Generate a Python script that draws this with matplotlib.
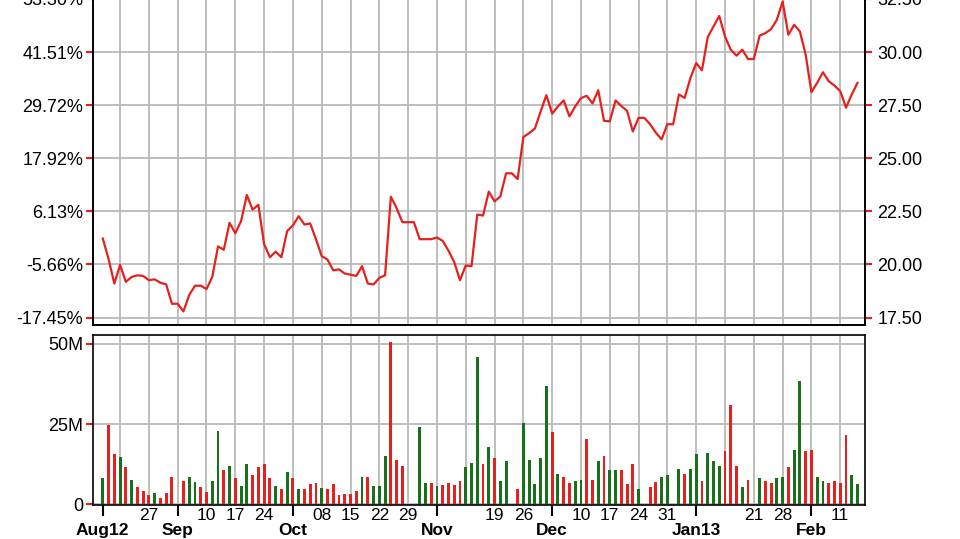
import numpy as np
import pandas as pd
import matplotlib
matplotlib.use('Agg')
import matplotlib.pyplot as plt

plt.rcParams['font.family'] = ['Liberation Sans', 'DejaVu Sans']

### Data

start = '2012-08-15'
end = '2013-02-14'
holidays = ['2012-09-03', '2012-10-29', '2012-10-30', '2012-11-22',
            '2012-12-25', '2013-01-01', '2013-01-21']

# daily close (trading days only)
close = [
    21.22, 20.26, 19.10, 19.98, 19.18, 19.41, 19.49, 19.46, 19.26, 19.30,
    19.14, 19.06, 18.15, 17.79, 18.56, 19.00, 19.00, 18.84, 19.41, 20.85,
    20.69, 21.96, 21.47, 22.04, 23.27, 22.58, 22.81, 20.96, 20.34, 20.60,
    20.34, 21.57, 21.84, 22.27, 21.88, 21.93, 21.19, 20.39, 20.23, 19.72,
    19.77, 19.57, 19.52, 19.46, 19.92, 19.10, 19.06, 19.37, 19.49, 23.19,
    22.65, 21.99, 21.19, 21.19, 21.19, 21.27, 21.11, 20.65, 20.11, 19.26,
    19.95, 19.92, 22.35, 22.30, 23.43, 22.97, 23.20, 24.29, 24.02, 26.00,
    26.18, 26.40, 27.20, 27.97, 27.10, 27.44, 27.72, 26.97, 27.44, 27.83,
    27.94, 27.58, 28.20, 26.76, 26.74, 27.72, 27.46, 27.23, 26.26, 26.90,
    26.60, 26.20, 25.89, 26.60, 28.00, 27.84, 28.78, 29.48, 29.14, 30.70,
    31.20, 31.70, 30.73, 30.11, 29.83, 30.11, 29.67, 30.77, 30.89, 31.08,
    31.52, 32.38, 30.81, 31.28, 30.97, 29.88, 28.11, 28.55, 29.05, 28.63,
    28.42, 28.16, 27.38, 28.00, 28.55,
]

# daily volume, millions
volume_m = [
    8.1, 24.7, 15.5, 14.7, 11.6, 7.6, 5.2, 4.2, 2.8, 3.6,
    1.8, 3.6, 8.6, 7.1, 8.6, 6.8, 5.2, 3.7, 7.1, 22.7,
    10.5, 12.0, 8.1, 5.7, 12.6, 9.1, 11.5, 12.6, 8.1, 5.7,
    4.6, 10.0, 8.1, 4.6, 4.6, 6.2, 6.5, 5.0, 4.6, 6.2,
    2.8, 3.2, 3.2, 4.1, 8.6, 8.6, 5.7, 5.7, 14.9, 50.5,
    13.9, 12.0, 24.1, 6.5, 6.5, 5.7, 6.0, 6.5, 6.0, 7.1,
    11.5, 12.8, 46.0, 12.5, 17.9, 14.4, 7.1, 13.4, 4.6, 25.2,
    13.9, 6.2, 14.4, 36.8, 22.6, 9.5, 8.6, 6.5, 7.1, 7.6,
    20.4, 7.6, 13.4, 14.9, 10.5, 10.5, 10.5, 6.2, 12.5, 4.6,
    5.2, 6.8, 8.6, 9.1, 11.0, 9.5, 11.1, 15.5, 7.1, 15.8,
    13.4, 12.0, 16.5, 31.0, 12.0, 5.2, 7.6, 8.1, 7.1, 6.5,
    8.1, 8.6, 11.5, 16.9, 38.4, 16.5, 16.9, 8.6, 7.1, 6.5,
    7.1, 6.5, 21.7, 9.1, 6.2,
]

# g = green bar, r = red bar
bar_color = ('grrgrgrrrg' 'rrrrggrrgg' 'rgrggrrrrg' 'rgrgrrrgrr'
             'rrrrgrgggr' 'rrggrgrrrr' 'gggrgrggrg' 'ggggrgrrgg'
             'rrgrggrrrg' 'rrgggrggrg' 'ggrrrgrgrr' 'ggrggrrggr'
             'rrrgg')

price_ticks = [17.5, 20.0, 22.5, 25.0, 27.5, 30.0, 32.5]
price_labels = ['17.50', '20.00', '22.50', '25.00', '27.50', '30.00', '32.50']
pct_labels = ['-17.45%', '-5.66%', '6.13%', '17.92%', '29.72%', '41.51%', '53.30%']

vol_ticks = [0, 25, 50]
vol_labels = ['0', '25M', '50M']

month_dates = ['2012-08-15', '2012-09-03', '2012-10-01', '2012-11-05',
               '2012-12-03', '2013-01-07', '2013-02-04']
month_labels = ['Aug12', 'Sep', 'Oct', 'Nov', 'Dec', 'Jan13', 'Feb']
week_labels = {
    '2012-08-27': '27', '2012-09-10': '10', '2012-09-17': '17', '2012-09-24': '24',
    '2012-10-08': '08', '2012-10-15': '15', '2012-10-22': '22', '2012-10-29': '29',
    '2012-11-19': '19', '2012-11-26': '26', '2012-12-10': '10', '2012-12-17': '17',
    '2012-12-24': '24', '2012-12-31': '31', '2013-01-21': '21', '2013-01-28': '28',
    '2013-02-11': '11',
}

### Positions on a weekday axis (holidays leave an empty slot)

weekdays = pd.bdate_range(start, end)
days = weekdays[~weekdays.isin(pd.to_datetime(holidays))]
x_days = np.busday_count(start, days.values.astype('datetime64[D]'))

line = pd.Series(close, index=days).reindex(weekdays).ffill()
x_line = np.arange(len(weekdays))

mondays = pd.date_range(start, end, freq='W-MON')
x_mon = np.busday_count(start, mondays.values.astype('datetime64[D]'))
mon_labels = [week_labels.get(d.strftime('%Y-%m-%d'), '') for d in mondays]
x_month = np.busday_count(start, np.array(month_dates, dtype='datetime64[D]'))

### Figure

W, H = 960, 539
fig = plt.figure(figsize=(9.6, 5.39), dpi=100)

def px_axes(left, top, right, bottom):
    return fig.add_axes([left / W, 1 - bottom / H, (right - left) / W, (bottom - top) / H])

ax = px_axes(93, -10, 865, 325)
axv = px_axes(93, 335, 865, 505)

grid_kw = dict(color='#b9b9b9', linewidth=1.3)
red = '#e6201c'
green = '#18701a'

# price line
ax.plot(x_line, line.values, color=red, linewidth=1.6, zorder=3)
ax.set_xlim(-1.7, 132.3)
ax.set_ylim(17.15, 32.92)
ax.set_yticks(price_ticks)
ax.set_yticklabels(pct_labels)
ax.set_xticks(x_mon, minor=True)
ax.set_xticks([])
ax.xaxis.remove_overlapping_locs = False
ax.set_axisbelow(True)
ax.grid(axis='y', **grid_kw)
ax.grid(axis='x', which='minor', **grid_kw)
ax.tick_params(axis='x', which='both', length=0, labelbottom=False)
ax.tick_params(axis='y', colors=red, labelcolor='black', length=5, width=1.5,
               pad=2, labelsize=13)
for s in ax.spines.values():
    s.set_linewidth(1.2)

axr = ax.twinx()
axr.set_ylim(ax.get_ylim())
axr.set_yticks(price_ticks)
axr.set_yticklabels(price_labels)
axr.tick_params(axis='y', colors=red, labelcolor='black', length=5, width=1.5,
                pad=4, labelsize=13)
for s in axr.spines.values():
    s.set_linewidth(1.2)

# volume bars
colors = [green if c == 'g' else red for c in bar_color]
axv.bar(x_days, volume_m, width=0.5, color=colors, zorder=3)
axv.set_xlim(-1.7, 132.3)
axv.set_ylim(-0.3, 52.8)
axv.set_yticks(vol_ticks)
axv.set_yticklabels(vol_labels)
axv.set_axisbelow(True)
axv.grid(axis='y', **grid_kw)
axv.xaxis.remove_overlapping_locs = False
axv.set_xticks(x_month)
axv.set_xticklabels(month_labels, fontweight='bold')
axv.set_xticks(x_mon, minor=True)
axv.set_xticklabels(mon_labels, minor=True)
axv.grid(axis='x', which='minor', **grid_kw)
axv.tick_params(axis='x', which='major', length=8, width=1.5, pad=5, labelsize=12.5)
axv.tick_params(axis='x', which='minor', length=0, pad=2, labelsize=12.5)
axv.tick_params(axis='y', colors=red, labelcolor='black', length=5, width=1.5,
                pad=2, labelsize=13)
for s in axv.spines.values():
    s.set_linewidth(1.2)

fig.savefig('out.png', dpi=100)
plt.close(fig)
